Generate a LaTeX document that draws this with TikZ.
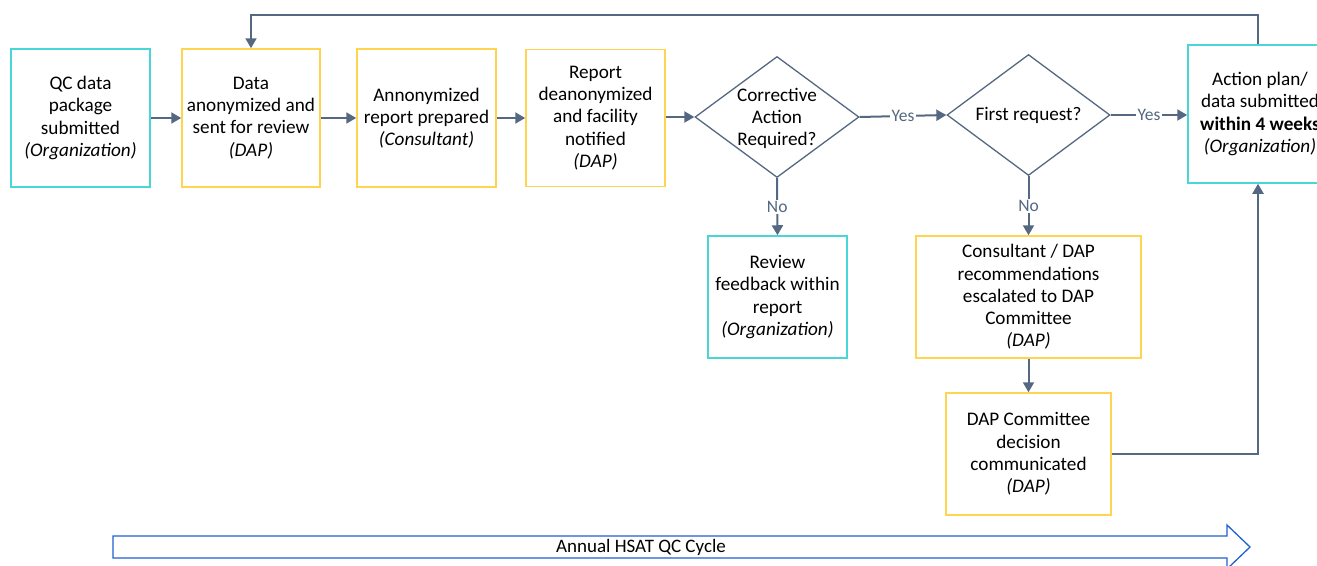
\documentclass[tikz,border=0pt]{standalone}
\usepackage{fontspec}
\setmainfont{Carlito}
\usetikzlibrary{arrows.meta,shapes.geometric,calc}
\definecolor{teal2}{RGB}{72,214,214}
\definecolor{gold2}{RGB}{255,213,79}
\definecolor{slate}{RGB}{84,104,130}
\definecolor{cycleblue}{RGB}{32,96,212}
\tikzset{
  box/.style={draw, line width=1.5pt, align=center, inner sep=2pt, font=\fontsize{19.2}{22.2}\selectfont},
  orgbox/.style={box, draw=teal2},
  dapbox/.style={box, draw=gold2},
  decision/.style={diamond, draw=slate, line width=1.3pt, inner sep=0pt},
  dtext/.style={align=center, font=\fontsize{19.2}{22.4}\selectfont},
  flow/.style={draw=slate, line width=2pt, -{Triangle[length=10pt,width=11pt]}},
  lbl/.style={midway, fill=white, inner sep=1.5pt, text=slate, font=\fontsize{17.5}{19}\selectfont},
}
\begin{document}
\begin{tikzpicture}[x=1pt,y=-1pt]
\useasboundingbox (0,0) rectangle (1317,565);

\node[orgbox, minimum width=139, minimum height=138] (qc) at (80.5,118) {QC data\\package\\submitted\\\textit{(Organization)}};
\node[dapbox, minimum width=138, minimum height=138] (anon) at (251,118) {Data\\anonymized and\\sent for review\\\textit{(DAP)}};
\node[dapbox, minimum width=139, minimum height=138] (rep) at (426.5,118) {Annonymized\\report prepared\\\textit{(Consultant)}};
\node[dapbox, minimum width=139, minimum height=137] (deanon) at (595.5,118) {Report\\deanonymized\\and facility\\notified\\\textit{(DAP)}};

\node[decision, minimum width=164, minimum height=121] (d1) at (777,117) {};
\node[dtext] (d1t) at (777,118.5) {Corrective\\Action\\Required?};
\node[decision, minimum width=163, minimum height=121] (d2) at (1028.5,115) {};
\node[dtext] (d2t) at (d2) {First request?};

\node[orgbox, minimum width=144, minimum height=138] (act) at (1260,114) {Action plan/\\data submitted\\\textbf{within 4 weeks}\\\textit{(Organization)}};

\node[orgbox, minimum width=139, minimum height=122] (rev) at (777.5,297) {Review\\feedback within\\report\\\textit{(Organization)}};
\node[dapbox, minimum width=225, minimum height=122] (cons) at (1028.5,297) {Consultant / DAP\\recommendations\\escalated to DAP\\Committee\\\textit{(DAP)}};
\node[dapbox, minimum width=165, minimum height=122] (dec) at (1028.5,454) {DAP Committee\\decision\\communicated\\\textit{(DAP)}};

\coordinate (top) at (0,15);
\coordinate (rx) at (1258,0);

\draw[flow] (qc.east) -- (anon.west);
\draw[flow] (anon.east) -- (rep.west);
\draw[flow] (rep.east) -- (deanon.west);
\draw[flow] (deanon.east |- d1.west) -- (d1.west);
\draw[flow] (d1.east) -- node[lbl] {Yes} (d2.west);
\draw[flow] (d2.east) -- node[lbl] {Yes} (d2.east -| act.west);
\draw[flow] (d1.south) -- node[lbl] {No} (rev.north);
\draw[flow] (d2.south) -- node[lbl] {No} (cons.north);
\draw[flow] (cons.south) -- (dec.north);
\draw[flow] (dec.east) -- (dec.east -| rx) -- (rx |- act.south);
\draw[flow] (rx |- act.north) -- (rx |- top) -- (anon.north |- top) -- (anon.north);

\draw[draw=cycleblue, line width=1.3pt, line join=miter]
  (113,536) -- (1227,536) -- (1227,525) -- (1250,547) -- (1227,569) -- (1227,558) -- (113,558) -- cycle;
\node[font=\fontsize{19}{22.2}\selectfont] (cycle) at (641,547) {Annual HSAT QC Cycle};
\end{tikzpicture}
\end{document}
